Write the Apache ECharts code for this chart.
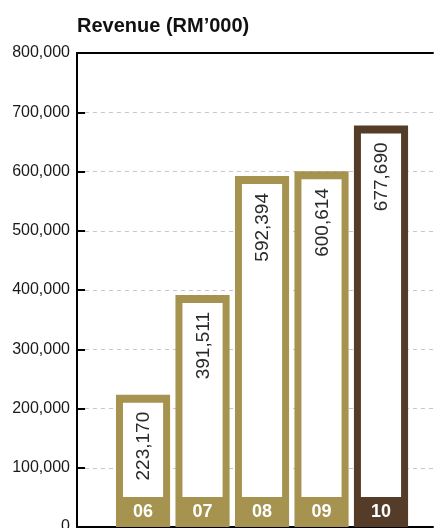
<!DOCTYPE html>
<html>
<head>
<meta charset="utf-8">
<script src="https://cdn.jsdelivr.net/npm/echarts@6/dist/echarts.min.js"></script>
<style>
html,body{margin:0;padding:0;background:#fff;}
#chart{width:445px;height:528px;}
</style>
</head>
<body>
<div id="chart"></div>
<script>
// ---- data ----
const categories = ['06', '07', '08', '09', '10'];
const revenue = [223170, 391511, 592394, 600614, 677690];
const yMin = 0, yMax = 800000, yInterval = 100000;
const titleText = 'Revenue (RM\u2019000)';

// ---- style ----
const OLIVE = '#a5934f';
const BROWN = '#543c28';
const FONT = '"Liberation Sans", Arial, Helvetica, sans-serif';
const fmt = v => v.toLocaleString('en-US');

const chart = echarts.init(document.getElementById('chart'), null, {renderer: 'canvas'});

function renderItem(params, api) {
  const i = api.value(0), v = api.value(1);
  const top = api.coord([i, v]);
  const base = api.coord([i, 0]);
  const w = api.size([1, 0])[0] * 0.91;
  const x0 = top[0] - w / 2;
  const h = base[1] - top[1];
  const color = i === categories.length - 1 ? BROWN : OLIVE;
  return {
    type: 'group',
    children: [
      {type: 'rect', shape: {x: x0, y: top[1], width: w, height: h}, style: {fill: color}},
      {type: 'rect', shape: {x: x0 + 7, y: top[1] + 8, width: w - 14, height: h - 38}, style: {fill: '#ffffff'}},
      {type: 'text', x: top[0] + 1, y: top[1] + 17, rotation: Math.PI / 2,
        style: {text: fmt(v), align: 'right', verticalAlign: 'middle', fontSize: 19, fontFamily: FONT, fill: '#2a2a2a'}},
      {type: 'text', x: top[0], y: base[1] - 15,
        style: {text: categories[i], align: 'center', verticalAlign: 'middle', fontSize: 18, fontWeight: 'bold', fontFamily: FONT, fill: '#ffffff'}}
    ]
  };
}

const option = {
  animation: false,
  title: {
    text: titleText, left: 77, top: 16, padding: 0,
    textStyle: {fontSize: 20, fontWeight: 'bold', fontFamily: FONT, color: '#111'}
  },
  grid: {left: 77, right: 12, top: 53, bottom: 1, containLabel: false, outerBoundsMode: 'none'},
  xAxis: [
    {type: 'value', min: -1.11, max: 4.874, position: 'bottom',
      axisLine: {show: true, onZero: false, lineStyle: {color: '#000', width: 2}},
      axisTick: {show: false}, axisLabel: {show: false}, splitLine: {show: false}},
    {type: 'value', min: -1.11, max: 4.874, position: 'top',
      axisLine: {show: true, onZero: false, lineStyle: {color: '#000', width: 2}},
      axisTick: {show: false}, axisLabel: {show: false}, splitLine: {show: false}}
  ],
  yAxis: {
    type: 'value', min: yMin, max: yMax, interval: yInterval,
    axisLine: {show: true, onZero: false, lineStyle: {color: '#000', width: 2}},
    axisTick: {show: true, inside: true, length: 8, lineStyle: {color: '#000', width: 2}},
    axisLabel: {formatter: v => fmt(v), fontSize: 16, fontFamily: FONT, color: '#1a1a1a', margin: 7},
    splitLine: {show: true, lineStyle: {color: '#c8c8c8', type: [4, 4], width: 1}}
  },
  series: [{
    type: 'custom',
    xAxisIndex: 0,
    renderItem: renderItem,
    encode: {x: 0, y: 1},
    clip: false,
    data: revenue.map((v, i) => [i, v])
  }]
};
chart.setOption(option);
</script>
</body>
</html>
